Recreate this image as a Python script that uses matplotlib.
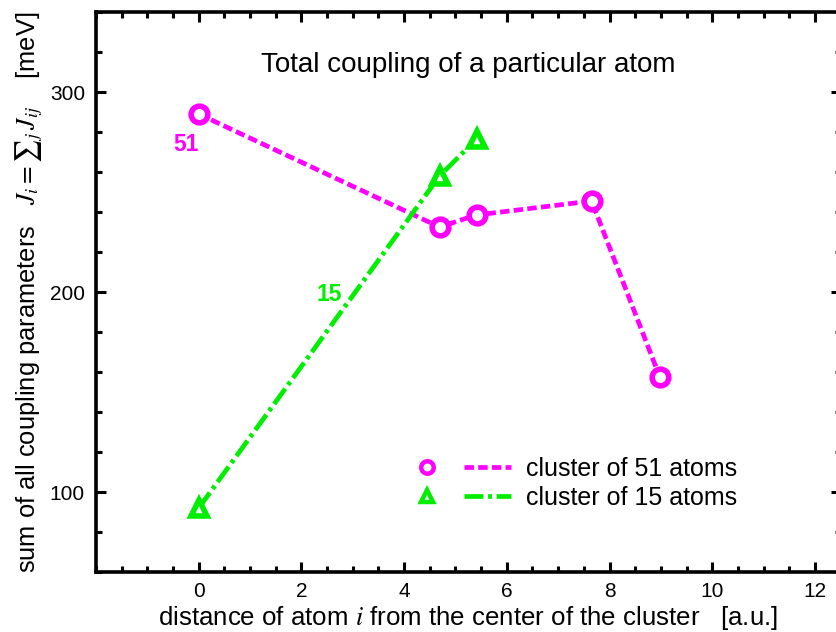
import matplotlib
matplotlib.use("Agg")
import matplotlib.pyplot as plt
from matplotlib.ticker import MultipleLocator
from matplotlib.lines import Line2D
from matplotlib.legend_handler import HandlerTuple

plt.rcParams['font.family'] = ['Liberation Sans', 'DejaVu Sans']
plt.rcParams['mathtext.fontset'] = 'stix'

x51 = [0.0, 4.69, 5.41, 7.65, 8.98]
y51 = [289, 232.5, 238.5, 245.5, 157.5]
x15 = [0.0, 4.69, 5.41]
y15 = [92, 258, 276.5]
label51 = "cluster of 51 atoms"
label15 = "cluster of 15 atoms"

MAG = '#ff00ff'
GRN = '#00ee00'

fig = plt.figure(figsize=(8.36, 6.32), dpi=100)
ax = fig.add_axes([96/836, 1-572/632, (840.6-96)/836, (572-12)/632])

ls51 = dict(color=MAG, lw=3.4, dashes=(2.0, 0.9))
ls15 = dict(color=GRN, lw=3.4, dashes=(4, 1, 0.8, 1))
ax.plot(x51, y51, **ls51, marker='o', ms=12, mfc='white', mec=MAG, mew=4)
ax.plot(x15, y15, **ls15, marker='^', ms=11, mfc='white', mec=GRN, mew=4)

ax.set_xlim(-2, 12.5)
ax.set_ylim(60, 340)
ax.xaxis.set_minor_locator(MultipleLocator(0.5))
ax.yaxis.set_major_locator(MultipleLocator(100))
ax.yaxis.set_minor_locator(MultipleLocator(20))
ax.set_xticks([0, 2, 4, 6, 8, 10, 12])
ax.tick_params(which='both', direction='in', top=True, right=True, labelsize=15, width=2.2)
ax.tick_params(which='major', length=7)
ax.tick_params(which='minor', length=4)
ax.tick_params(axis='x', pad=7)
ax.tick_params(axis='y', pad=8)
for s in ax.spines.values():
    s.set_linewidth(2.6)

ax.text(0.5, 0.905, "Total coupling of a particular atom", transform=ax.transAxes,
        ha='center', va='center', fontsize=20)
ax.text(-0.24, 274, "51", color=MAG, fontsize=16.5, fontweight='bold', ha='center', va='center')
ax.text(2.55, 199, "15", color=GRN, fontsize=16.5, fontweight='bold', ha='center', va='center')

ax.set_xlabel(r"distance of atom $i$ from the center of the cluster   [a.u.]", fontsize=18.6)
ax.xaxis.set_label_coords(0.5, -0.057)
ax.set_ylabel(r"sum of all coupling parameters   $J_i = {\sum}_j\, J_{ij}$    [meV]", fontsize=18.4)
ax.yaxis.set_label_coords(-0.068, 0.5)

h51 = (Line2D([], [], ls='none', marker='o', ms=9, mfc='white', mec=MAG, mew=3.2),
       Line2D([], [], **ls51))
h15 = (Line2D([], [], ls='none', marker='^', ms=8, mfc='white', mec=GRN, mew=3.2),
       Line2D([], [], **ls15))
leg = ax.legend([h51, h15], [label51, label15], loc='center left',
                bbox_to_anchor=(0.396, 0.158),
                handler_map={tuple: HandlerTuple(ndivide=None, pad=0.55)},
                frameon=False, fontsize=18, handlelength=4.3, handletextpad=0.6,
                labelspacing=0.2, borderpad=0)

fig.savefig("out.png", dpi=100)
